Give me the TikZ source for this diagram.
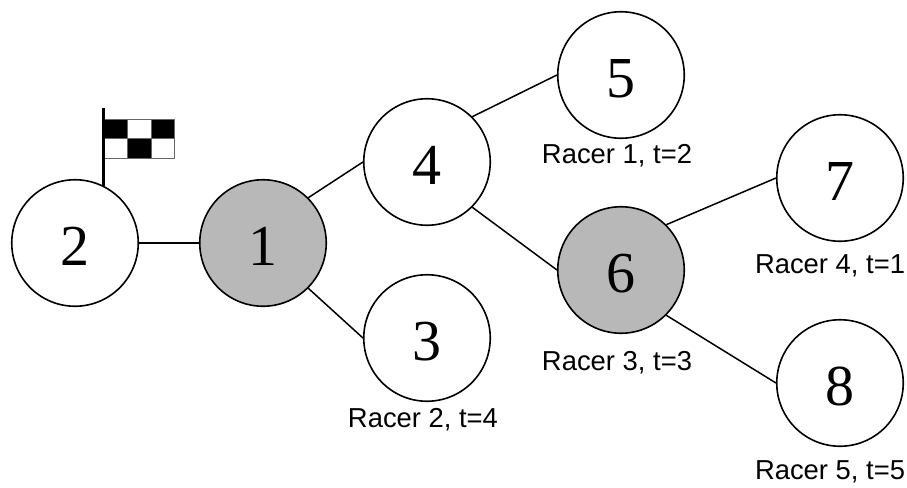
\documentclass[tikz,border=0pt]{standalone}
\usepackage{fontspec}
\newfontfamily\racerfont{Liberation Sans}
\newfontfamily\digitfont{Liberation Serif}
\tikzset{
	vertex/.style={draw, circle, line width=1.6pt, minimum size=126.5pt, inner sep=0pt, text height=44pt, text depth=0pt, font=\digitfont\fontsize{58}{58}\selectfont},
	visited/.style={vertex, fill=black!28},
	racer/.style={font=\racerfont\fontsize{27.4}{30}\selectfont, inner sep=0pt},
	edge/.style={line width=1.5pt}
}
\begin{document}
\begin{tikzpicture}[x=1pt, y=-1pt]
		\useasboundingbox (0,0) rectangle (907,487);
		% tree
		\node[vertex] (n2) at (75,243) {2};
		\node[visited] (n1) at (263,243) {1};
		\node[vertex] (n4) at (427,162) {4};
		\node[vertex] (n3) at (427,338) {3};
		\node[vertex] (n5) at (621,75) {5};
		\node[visited] (n6) at (621,270) {6};
		\node[vertex] (n7) at (840,178) {7};
		\node[vertex] (n8) at (840,383) {8};
		\draw[edge] (n2.east) -- (n1.west);
		\draw[edge] (n1.45) -- (n4.180);
		\draw[edge] (n1.-45) -- (n3.180);
		\draw[edge] (n4.45) -- (n5.180);
		\draw[edge] (n4.-45) -- (n6.180);
		\draw[edge] (n6.45) -- (n7.180);
		\draw[edge] (n6.-45) -- (n8.180);
		% labels
		\node[racer] (r1) at (617,156) {Racer 1, t=2};
		\node[racer] (r2) at (423,420) {Racer 2, t=4};
		\node[racer] (r3) at (617,363) {Racer 3, t=3};
		\node[racer] (r4) at (830,266) {Racer 4, t=1};
		\node[racer] (r5) at (830,472) {Racer 5, t=5};
		% flag
		\coordinate (poletop) at (103.5,108);
		\coordinate (polebase) at (103.5,186);
		\foreach \col/\row/\shade in {0/0/black,1/0/white,2/0/black,0/1/white,1/1/black,2/1/white}
			\draw[black!60, fill=\shade, line width=0.8pt] (103.5+\col*23.7,119+\row*19.5) rectangle +(23.7,19.5);
		\draw[line width=2.8pt] (poletop) -- (polebase);
\end{tikzpicture}
\end{document}
